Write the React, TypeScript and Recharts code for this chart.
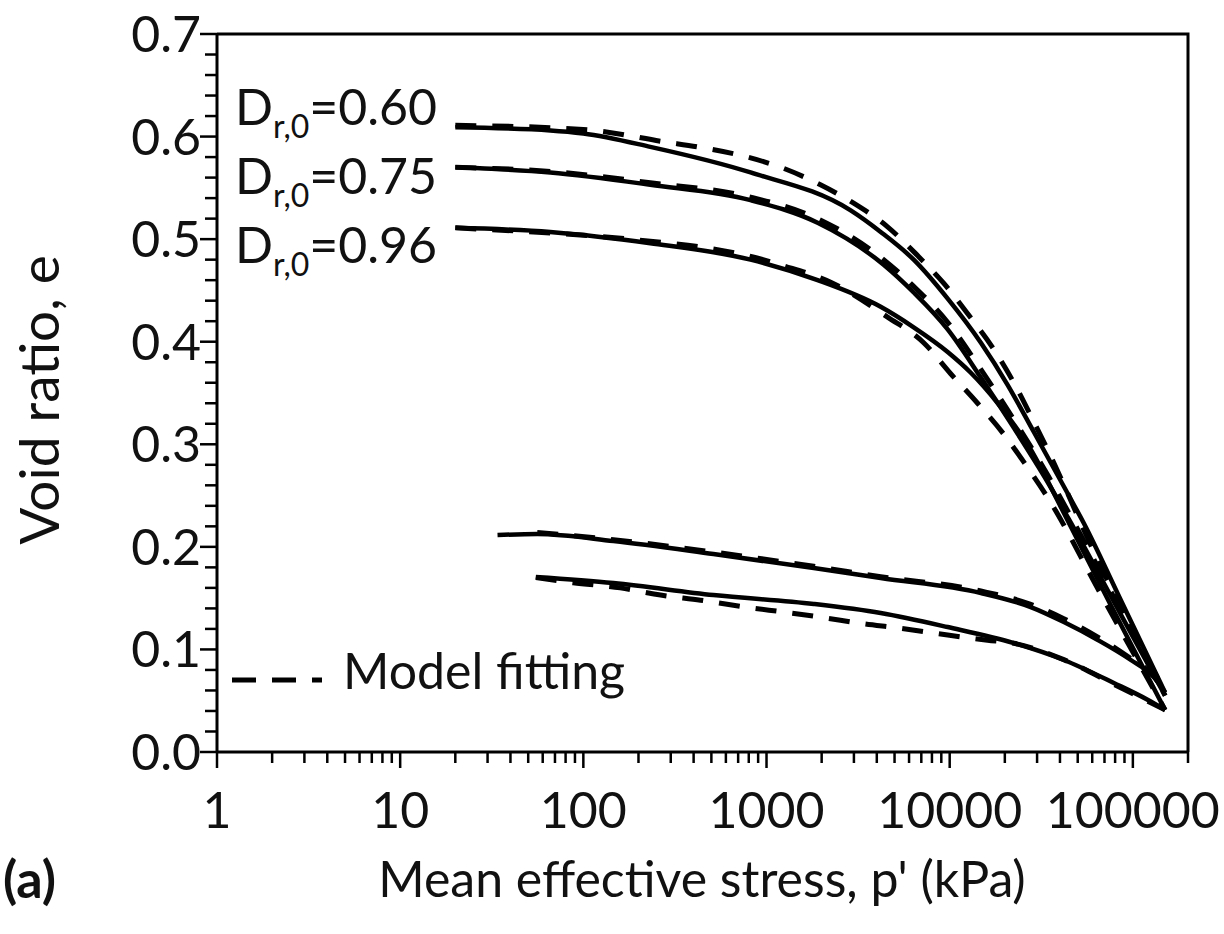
import React from 'react';
import { LineChart, Line, XAxis, YAxis } from 'recharts';

type Pt = { p: number; e: number };

// loading curves (measured) – p' in kPa, e void ratio
const load060: Pt[] = [
  { p: 20, e: 0.609 }, { p: 66, e: 0.606 }, { p: 100, e: 0.603 }, { p: 232, e: 0.59 },
  { p: 818, e: 0.565 }, { p: 2880, e: 0.528 }, { p: 4200, e: 0.507 }, { p: 6360, e: 0.48 },
  { p: 9750, e: 0.442 }, { p: 14800, e: 0.399 }, { p: 20700, e: 0.358 }, { p: 28800, e: 0.312 },
  { p: 44100, e: 0.252 }, { p: 54000, e: 0.223 }, { p: 86000, e: 0.148 }, { p: 150000, e: 0.058 },
];
const load075: Pt[] = [
  { p: 20, e: 0.57 }, { p: 66, e: 0.565 }, { p: 232, e: 0.553 }, { p: 818, e: 0.538 },
  { p: 1900, e: 0.516 }, { p: 4360, e: 0.475 }, { p: 6360, e: 0.448 }, { p: 9750, e: 0.412 },
  { p: 14800, e: 0.365 }, { p: 22400, e: 0.316 }, { p: 34300, e: 0.263 }, { p: 44100, e: 0.229 },
  { p: 86000, e: 0.134 }, { p: 150000, e: 0.055 },
];
const load096: Pt[] = [
  { p: 20, e: 0.511 }, { p: 66, e: 0.507 }, { p: 232, e: 0.496 }, { p: 818, e: 0.48 },
  { p: 1900, e: 0.46 }, { p: 4200, e: 0.434 }, { p: 6360, e: 0.414 }, { p: 9750, e: 0.39 },
  { p: 13000, e: 0.37 }, { p: 18300, e: 0.34 }, { p: 27700, e: 0.295 }, { p: 40400, e: 0.239 },
  { p: 75800, e: 0.143 }, { p: 150000, e: 0.041 },
];

// unloading curves (measured)
const unloadA: Pt[] = [
  { p: 34, e: 0.2115 }, { p: 56, e: 0.2125 }, { p: 146, e: 0.2057 }, { p: 513, e: 0.193 },
  { p: 1810, e: 0.1793 }, { p: 4200, e: 0.1696 }, { p: 14800, e: 0.155 }, { p: 27700, e: 0.1413 },
  { p: 42000, e: 0.1267 }, { p: 64400, e: 0.1092 }, { p: 97500, e: 0.0897 }, { p: 130000, e: 0.0731 },
  { p: 150000, e: 0.058 },
];
const unloadB: Pt[] = [
  { p: 55, e: 0.1706 }, { p: 146, e: 0.1647 }, { p: 513, e: 0.153 }, { p: 1810, e: 0.1443 },
  { p: 4200, e: 0.1355 }, { p: 9750, e: 0.1218 }, { p: 22400, e: 0.1062 }, { p: 42000, e: 0.0897 },
  { p: 78700, e: 0.0673 }, { p: 121000, e: 0.0507 }, { p: 150000, e: 0.041 },
];

// model fitting (dashed)
const fit060: Pt[] = [
  { p: 20, e: 0.611 }, { p: 100, e: 0.607 }, { p: 274, e: 0.595 }, { p: 453, e: 0.589 },
  { p: 787, e: 0.58 }, { p: 1240, e: 0.569 }, { p: 1970, e: 0.553 }, { p: 2990, e: 0.535 },
  { p: 4580, e: 0.512 }, { p: 6680, e: 0.484 }, { p: 9270, e: 0.457 }, { p: 12700, e: 0.426 },
  { p: 17200, e: 0.394 }, { p: 22400, e: 0.36 }, { p: 28400, e: 0.324 }, { p: 35700, e: 0.288 },
  { p: 44100, e: 0.252 }, { p: 52000, e: 0.223 }, { p: 150000, e: 0.058 },
];
const fit075: Pt[] = [
  { p: 20, e: 0.57 }, { p: 66, e: 0.566 }, { p: 232, e: 0.555 }, { p: 818, e: 0.541 },
  { p: 1900, e: 0.52 }, { p: 4360, e: 0.48 }, { p: 6360, e: 0.454 }, { p: 9750, e: 0.419 },
  { p: 14800, e: 0.373 }, { p: 22400, e: 0.324 }, { p: 34300, e: 0.27 }, { p: 44100, e: 0.235 },
  { p: 86000, e: 0.138 }, { p: 150000, e: 0.055 },
];
const fit096: Pt[] = [
  { p: 20, e: 0.511 }, { p: 232, e: 0.498 }, { p: 453, e: 0.492 }, { p: 787, e: 0.484 },
  { p: 1240, e: 0.474 }, { p: 2240, e: 0.458 }, { p: 4580, e: 0.424 }, { p: 7210, e: 0.399 },
  { p: 10100, e: 0.369 }, { p: 14200, e: 0.34 }, { p: 19700, e: 0.31 }, { p: 26700, e: 0.277 },
  { p: 34300, e: 0.248 }, { p: 66800, e: 0.154 }, { p: 150000, e: 0.041 },
];
const fitUnloadA: Pt[] = [
  { p: 56, e: 0.214 }, { p: 146, e: 0.207 }, { p: 513, e: 0.195 }, { p: 1810, e: 0.181 },
  { p: 4200, e: 0.171 }, { p: 14800, e: 0.157 }, { p: 27700, e: 0.144 }, { p: 42000, e: 0.13 },
  { p: 64400, e: 0.112 }, { p: 97500, e: 0.091 }, { p: 130000, e: 0.074 }, { p: 150000, e: 0.058 },
];
const fitUnloadB: Pt[] = [
  { p: 55, e: 0.17 }, { p: 88, e: 0.165 }, { p: 159, e: 0.16 }, { p: 264, e: 0.153 },
  { p: 436, e: 0.148 }, { p: 787, e: 0.141 }, { p: 1300, e: 0.136 }, { p: 2050, e: 0.131 },
  { p: 3390, e: 0.125 }, { p: 5200, e: 0.121 }, { p: 9750, e: 0.114 }, { p: 16100, e: 0.109 },
  { p: 22400, e: 0.106 }, { p: 42000, e: 0.09 }, { p: 78700, e: 0.066 }, { p: 150000, e: 0.041 },
];

const solidSeries = [load060, load075, load096, unloadA, unloadB];
const dashedSeries = [fit060, fit075, fit096, fitUnloadA, fitUnloadB];

const X_MAX = 200000;
const xMajor = [1, 10, 100, 1000, 10000, 100000];
const xTicks = xMajor
  .flatMap((d) => [1, 2, 3, 4, 5, 6, 7, 8, 9].map((m) => d * m))
  .filter((v) => v <= X_MAX);
const yTicks = Array.from({ length: 36 }, (_, i) => i / 50);
const dLabels = ['0.60', '0.75', '0.96'];

const FONT = 'Lato, "Open Sans", sans-serif';

const XTick = (props: any) => {
  const { x, y, payload } = props;
  const major = xMajor.includes(payload.value);
  return (
    <g>
      <line x1={x} x2={x} y1={y} y2={y + (major ? 16 : 11)} stroke="#000" strokeWidth={2.5} />
      {major && (
        <text x={x} y={y + 76} textAnchor="middle" fontSize={50} fontFamily={FONT} fill="#111">
          {payload.value}
        </text>
      )}
    </g>
  );
};

const YTick = (props: any) => {
  const { x, y, payload } = props;
  const major = Math.round(payload.value * 50) % 5 === 0;
  return (
    <g>
      <line x1={x - (major ? 17 : 12)} x2={x} y1={y} y2={y} stroke="#000" strokeWidth={2.5} />
      {major && (
        <text x={x - 16} y={y + 18} textAnchor="end" fontSize={50} fontFamily={FONT} fill="#111">
          {payload.value.toFixed(1)}
        </text>
      )}
    </g>
  );
};

export default function App() {
  return (
    <div style={{ position: 'absolute', left: 0, top: 0, width: 1224, height: 934, background: '#fff' }}>
      <LineChart width={1224} height={934} margin={{ top: 34, right: 36, bottom: 0, left: 0 }}>
        <XAxis
          dataKey="p"
          type="number"
          scale="log"
          domain={[1, X_MAX]}
          allowDataOverflow
          ticks={xTicks}
          interval={0}
          height={182}
          tickSize={0}
          tickMargin={0}
          tickLine={false}
          axisLine={{ stroke: '#000', strokeWidth: 3 }}
          tick={<XTick />}
        />
        <YAxis
          type="number"
          domain={[0, 0.7]}
          ticks={yTicks}
          interval={0}
          width={217}
          tickSize={0}
          tickMargin={0}
          tickLine={false}
          axisLine={{ stroke: '#000', strokeWidth: 3 }}
          tick={<YTick />}
        />
        {solidSeries.map((s, i) => (
          <Line
            key={`s${i}`}
            data={s}
            dataKey="e"
            type="monotone"
            dot={false}
            stroke="#000"
            strokeWidth={4.5}
            isAnimationActive={false}
          />
        ))}
        {dashedSeries.map((s, i) => (
          <Line
            key={`d${i}`}
            data={s}
            dataKey="e"
            type="monotone"
            dot={false}
            stroke="#000"
            strokeWidth={5}
            strokeDasharray="21 16"
            isAnimationActive={false}
          />
        ))}
      </LineChart>

      <svg
        width={1224}
        height={934}
        style={{ position: 'absolute', left: 0, top: 0, pointerEvents: 'none', overflow: 'visible' }}
        fontFamily={FONT}
        fill="#111"
      >
        {/* frame: top and right edges of the plot box */}
        <polyline points="217,34 1188,34 1188,752" fill="none" stroke="#000" strokeWidth={3} />
        {dLabels.map((d, i) => (
          <text key={d} x={235} y={125 + i * 69} fontSize={50}>
            D
            <tspan dy={13} fontSize={32}>r,0</tspan>
            <tspan dy={-13}>={d}</tspan>
          </text>
        ))}
        <line x1={232} x2={322} y1={680} y2={680} stroke="#000" strokeWidth={5} strokeDasharray="24 16" />
        <text x={343} y={689} fontSize={50}>Model fitting</text>
        <text x={702} y={897} fontSize={50} textAnchor="middle">Mean effective stress, p' (kPa)</text>
        <text transform="translate(38 400) rotate(-90)" fontSize={55} textAnchor="middle" dominantBaseline="central">
          Void ratio, e
        </text>
        <text x={3} y={898} fontSize={52} fontWeight="bold">(a)</text>
      </svg>
    </div>
  );
}
